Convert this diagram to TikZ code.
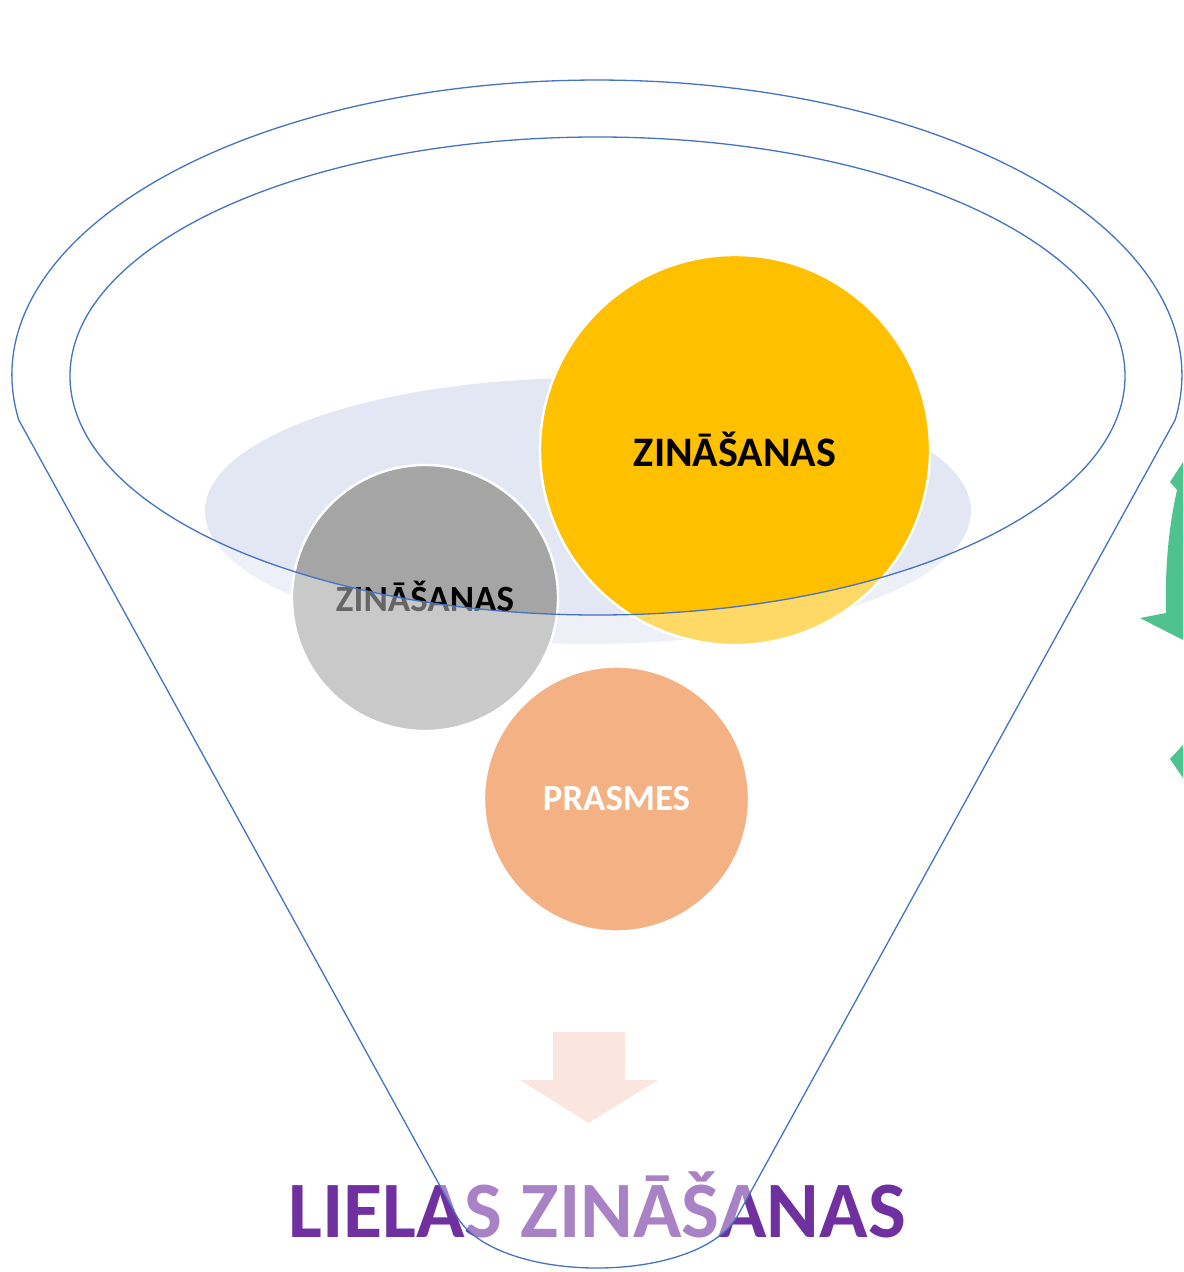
\documentclass[tikz,border=0pt]{standalone}
\usepackage{fontspec}
\setmainfont{Carlito}
\definecolor{funnelblue}{HTML}{4472C4}
\definecolor{bgblue}{HTML}{E2E7F3}
\definecolor{cgray}{HTML}{A5A5A5}
\definecolor{cyellow}{HTML}{FFC000}
\definecolor{corange}{HTML}{ED7D31}
\definecolor{cpurple}{HTML}{7030A0}
\definecolor{cpink}{HTML}{F8D4CA}
\definecolor{cgreen}{HTML}{4EC38D}
\begin{document}
\begin{tikzpicture}[x=0.5pt,y=-0.5pt,
  circ/.style={circle, draw=white, line width=1.2pt, inner sep=0pt, align=center},
  funnelline/.style={draw=funnelblue, line width=0.65pt},
  veil/.style={fill=white, fill opacity=0.4, even odd rule}]
\useasboundingbox (0,0) rectangle (1183,1272);
% background ellipse
\fill[bgblue] (588,511) ellipse [x radius=383, y radius=133];
% circles
\node[circ, fill=cgray, minimum size=133pt] (g) at (425,598) {};
\node[font=\bfseries\fontsize{18.5}{18.5}\selectfont, inner sep=0pt] (gt) at (425,596) {ZINĀŠANAS};
\node[circ, fill=cyellow, minimum size=195pt] (y) at (735,450) {};
\node[font=\bfseries\fontsize{21}{21}\selectfont, inner sep=0pt] (yt) at (735,449) {ZINĀŠANAS};
\node[circ, fill=corange, minimum size=132.5pt, text=white, font=\bfseries\fontsize{18.4}{18.4}\selectfont] (o) at (616.5,799) {PRASMES};
% down arrow
\fill[cpink] (553,1032) -- (625,1032) -- (625,1080) -- (658,1080) -- (588.5,1123) -- (520,1080) -- (553,1080) -- cycle;
% bottom title
\node[text=cpurple, font=\bfseries\fontsize{40}{40}\selectfont, inner sep=0pt] (t) at (597,1205) {LIELAS ZINĀŠANAS};
% funnel body veil
\path[veil] (18.8,420) arc[start angle=171.23, end angle=368.77, x radius=585, y radius=295]
  -- (738,1215) .. controls (699.2,1285.7) and (494.8,1285.7) .. (456,1215) -- cycle
  (597.5,376) ellipse [x radius=527.5, y radius=239];
% funnel outlines
\draw[funnelline] (18.8,420) arc[start angle=171.23, end angle=368.77, x radius=585, y radius=295]
  -- (738,1215) .. controls (699.2,1285.7) and (494.8,1285.7) .. (456,1215) -- cycle;
\draw[funnelline] (597.5,376) ellipse [x radius=527.5, y radius=239];
% green partial arrows at right edge
\fill[cgreen] (1183,462) -- (1170,482) -- (1177,490) .. controls (1168,530) and (1165,570) .. (1166,613)
  -- (1140,618) -- (1183,640) -- cycle;
\fill[cgreen] (1183,745) -- (1170,759) -- (1183,778) -- cycle;
\end{tikzpicture}
\end{document}
